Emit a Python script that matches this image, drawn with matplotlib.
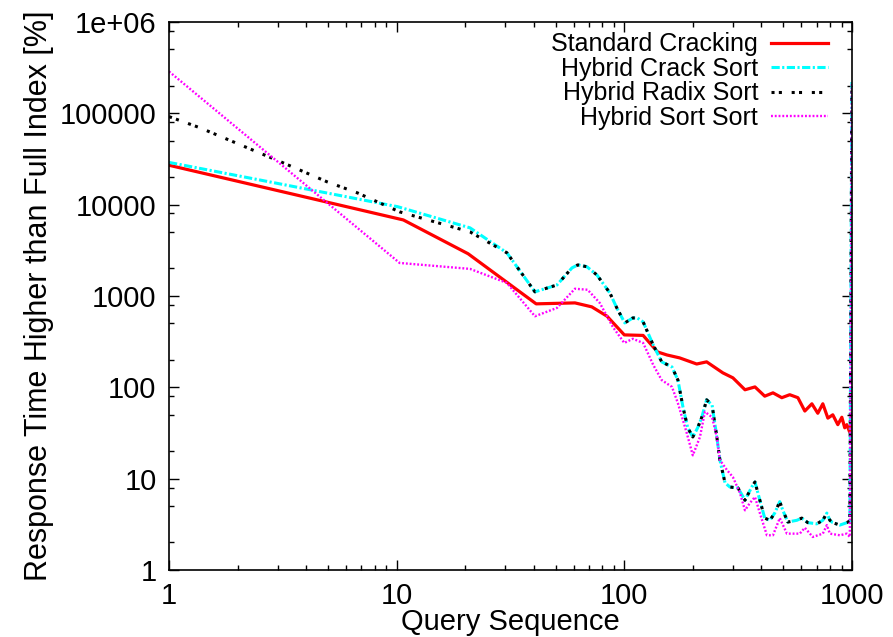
import matplotlib
matplotlib.use("Agg")
import matplotlib.pyplot as plt
from matplotlib.ticker import LogLocator, FixedLocator, FixedFormatter, NullFormatter

plt.rcParams['font.family'] = ['Liberation Sans', 'DejaVu Sans']

# Standard Cracking
crack_x = [1, 10.7, 20.6, 41, 60.7, 72, 84, 100, 121, 140, 154, 175, 208, 230, 271,
           300, 339, 375, 414, 450, 492, 533, 579, 621, 667, 708, 745, 784, 824,
           867, 903, 930, 950, 979, 1000]
crack_y = [27000, 6800, 2900, 820, 840, 760, 600, 375, 370, 244, 226, 210, 180, 190, 144,
           127, 94, 101, 80, 87, 77, 83, 77, 55, 66, 52, 66, 46, 50,
           39, 47, 36, 39, 32, 52]

# Hybrid Crack Sort
hcs_x = [1, 10.1, 21, 30.5, 40.5, 50.6, 58.9, 62.5, 68.5, 75.8, 86.4, 92.7, 100.5, 109,
         114, 121, 134, 146, 162, 172, 181, 190, 200, 210, 219, 230, 243, 255, 263,
         277, 291, 316, 339, 363, 375, 394, 414, 436, 458, 482, 497, 523, 573, 602,
         640, 701, 745, 776, 800, 824, 885, 950, 979, 1000]
hcs_y = [29000, 9500, 5570, 2970, 1110, 1320, 2030, 2190, 2090, 1700, 1080, 740, 507, 575,
         575, 520, 291, 190, 167, 120, 61, 36, 28.6, 36, 47, 73, 64, 28.6, 16,
         9.0, 8.1, 7.9, 5.8, 8.1, 9.2, 5.8, 3.7, 3.5, 4.2, 5.6, 4.5, 3.35, 3.5, 3.7,
         3.3, 3.2, 3.5, 4.2, 3.5, 3.3, 3.1, 3.3, 3.45, 220000]

# Hybrid Radix Sort (starts higher, then follows crack sort from query 21 on)
hrs_x = [1, 1.37, 2.11, 3.17, 4.94, 6.7, 10.3] + hcs_x[2:]
hrs_y = [92000, 69300, 44000, 28700, 17800, 13500, 8340] + [5030] + hcs_y[3:]

# Hybrid Sort Sort
hss_x = [1, 10.3, 21, 30.5, 40.5, 50.6, 60.7, 69, 78, 89, 100, 109, 121, 134, 146, 162,
         172, 188, 200, 215, 226, 243, 255, 263, 282, 300, 322, 339, 356, 375, 394,
         423, 450, 482, 518, 590, 621, 673, 745, 776, 800, 885, 950, 979, 1000]
hss_y = [287000, 2300, 1980, 1390, 600, 740, 1200, 1170, 840, 459, 306, 340, 306, 176, 120, 101,
         67, 31.7, 18, 28.6, 54, 47, 28.6, 16, 12.5, 10.4, 7.0, 4.5, 5.4, 6.3, 4.2,
         2.4, 2.4, 3.7, 2.5, 2.5, 2.9, 2.3, 2.5, 3.1, 2.5, 2.4, 2.5, 2.3, 220000]

x_ticks = [1, 10, 100, 1000]
x_labels = ['1', '10', '100', '1000']
y_ticks = [1, 10, 100, 1000, 10000, 100000, 1000000]
y_labels = ['1', '10', '100', '1000', '10000', '100000', '1e+06']

fig = plt.figure(figsize=(8.93, 6.37), dpi=100)
ax = fig.add_axes([0.1893, 0.1052, 0.7647, 0.8603])

ax.plot(crack_x, crack_y, color='#ff0000', lw=2.3, label='Standard Cracking')
ax.plot(hcs_x, hcs_y, color='#00ffff', lw=2.2, dashes=(2.7, 0.8, 0.7, 0.8),
        label='Hybrid Crack Sort')
ax.plot(hrs_x, hrs_y, color='black', lw=2.2, dashes=(1, 1.4, 1, 3.2),
        dash_capstyle='butt', label='Hybrid Radix Sort')
ax.plot(hss_x, hss_y, color='#ff00ff', lw=1.7, dashes=(0.8, 0.8),
        label='Hybrid Sort Sort')

ax.set_xscale('log')
ax.set_yscale('log')
ax.set_xlim(1, 1000)
ax.set_ylim(1, 1e6)

ax.xaxis.set_major_locator(FixedLocator(x_ticks))
ax.xaxis.set_major_formatter(FixedFormatter(x_labels))
ax.xaxis.set_minor_locator(LogLocator(base=10, subs=range(2, 10)))
ax.xaxis.set_minor_formatter(NullFormatter())
ax.yaxis.set_major_locator(FixedLocator(y_ticks))
ax.yaxis.set_major_formatter(FixedFormatter(y_labels))
ax.yaxis.set_minor_locator(LogLocator(base=10, subs=(2, 5, 8)))
ax.yaxis.set_minor_formatter(NullFormatter())

ax.tick_params(which='both', direction='in', top=True, right=True, width=1.0)
ax.tick_params(which='major', length=7, labelsize=21, pad=9)
ax.tick_params(which='minor', length=3.5)
for s in ax.spines.values():
    s.set_linewidth(1.2)

ax.set_xlabel('Query Sequence', fontsize=21, labelpad=-2)
ax.set_ylabel('Response Time Higher than Full Index [%]', fontsize=22, labelpad=4)

# markerfirst=False right-aligns the rows, so labels end flush against the samples
ax.legend(loc='upper right', bbox_to_anchor=(0.965, 0.981), frameon=False,
          markerfirst=False, fontsize=18, handlelength=2.3, labelspacing=0.02,
          handletextpad=0.5, borderaxespad=0, borderpad=0)

fig.savefig('out.png', dpi=100)
